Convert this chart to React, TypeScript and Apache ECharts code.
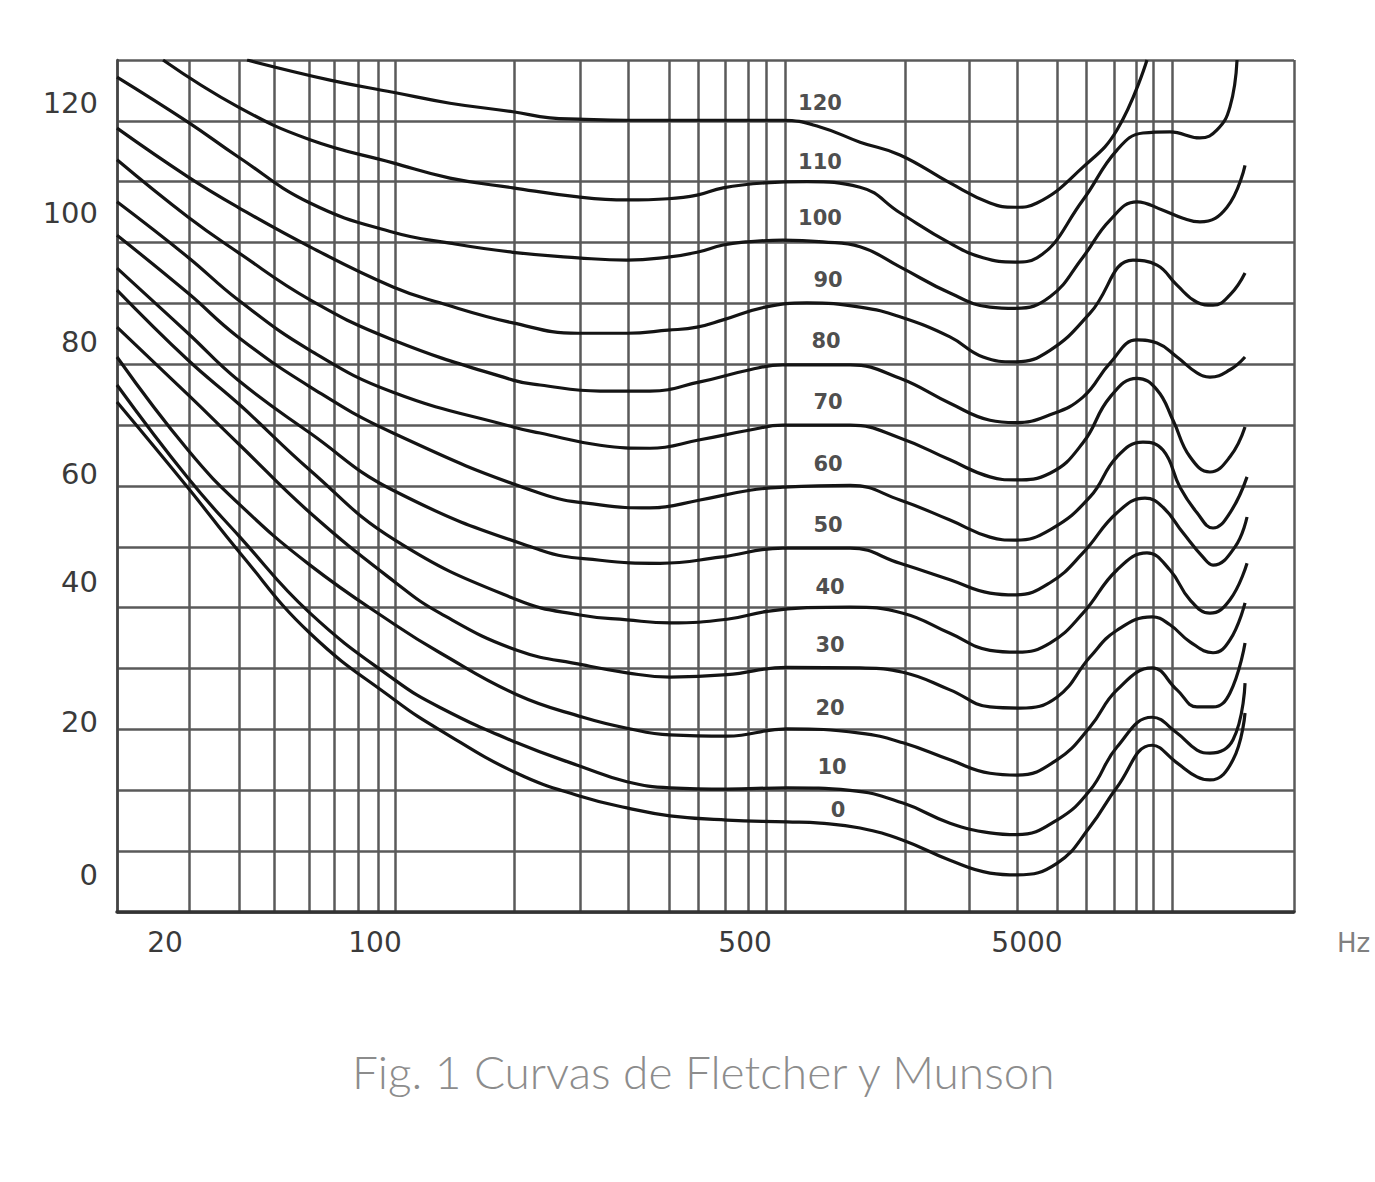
import { useEffect, useRef } from 'react';
import * as echarts from 'echarts';

// Equal-loudness contours (phon). x = position along the scanned frequency scale (0–100 % of plot width), y = sound level in dB.
const phonLevels = ['0', '10', '20', '30', '40', '50', '60', '70', '80', '90', '100', '110', '120'];

const curve0: [number, number][] = [
  [0, 73.8], [6.03, 59.7], [10.45, 49.0], [16.4, 35.8], [23.62, 24.8], [27.44, 19.9], [33.98, 12.8], [39.59, 8.9],
  [43.33, 7.1], [46.98, 5.8], [51.83, 5.1], [56.92, 4.8], [59.73, 4.6], [63.13, 3.8], [66.78, 1.8], [70.77, -1.5],
  [74.17, -3.6], [76.47, -3.9], [79.86, -2.0], [82.67, 4.0], [84.96, 10.5], [87.94, 17.4], [90.06, 14.5],
  [91.76, 12.2], [92.86, 11.7], [94.82, 15.0], [95.84, 22.7],
];
const curve10: [number, number][] = [
  [0, 76.6], [6.03, 61.3], [10.45, 51.6], [16.4, 39.1], [23.62, 28.1], [27.44, 23.6], [33.98, 17.8], [39.59, 13.8],
  [43.33, 11.4], [46.98, 10.4], [51.83, 10.2], [56.92, 10.4], [62.28, 10.0], [66.78, 7.9], [70.77, 4.6], [74.17, 3.0],
  [76.47, 2.7], [79.86, 5.1], [82.67, 10.0], [84.96, 17.1], [87.94, 22.0], [90.06, 19.4], [91.76, 16.6],
  [92.86, 16.1], [94.82, 18.3], [95.84, 27.6],
];
const curve20: [number, number][] = [
  [0, 81.2], [6.03, 65.9], [10.45, 56.9], [16.4, 47.0], [23.62, 37.2], [27.44, 32.6], [33.98, 25.7], [39.59, 22.0],
  [43.33, 20.2], [46.98, 19.1], [51.83, 18.9], [56.92, 20.1], [63.13, 19.4], [66.78, 17.8],
  [70.77, 15.0], [74.17, 12.8], [76.47, 12.5], [79.86, 15.0], [82.67, 20.4], [84.96, 26.5], [87.94, 30.1],
  [90.06, 26.5], [91.76, 23.7], [93.12, 23.7], [94.56, 26.0], [95.84, 34.2],
];
const curve30: [number, number][] = [
  [0, 86.1], [6.03, 75.0], [10.45, 66.7], [16.4, 55.6], [23.62, 44.2], [27.44, 39.1], [33.98, 33.0], [39.59, 30.6],
  [43.33, 29.3], [46.98, 28.6], [51.83, 29.0], [56.92, 30.2], [63.13, 30.1], [66.78, 29.4],
  [70.77, 26.5], [74.17, 23.7], [76.72, 23.5], [79.86, 25.3], [82.67, 31.9], [84.96, 36.3], [87.94, 38.5],
  [89.46, 37.2], [91.16, 34.4], [93.12, 32.6], [94.56, 34.7], [95.84, 40.8],
];
const curve40: [number, number][] = [
  [0, 92.2], [6.03, 80.7], [10.45, 73.3], [16.4, 62.6], [23.62, 51.1], [33.98, 41.3], [39.34, 38.8], [43.33, 38.0],
  [46.98, 37.5], [51.83, 38.1], [55.23, 39.4], [58.62, 40.0], [62.28, 40.1], [66.78, 39.1], [70.77, 35.8],
  [74.17, 33.0], [76.47, 32.7], [79.27, 34.2], [82.07, 39.1], [84.96, 46.2], [87.51, 49.0], [89.46, 46.2],
  [91.16, 41.3], [92.86, 39.1], [94.56, 41.3], [96.01, 47.3],
];
const curve50: [number, number][] = [
  [0, 95.8], [6.03, 85.1], [10.28, 77.4], [16.4, 68.7], [23.45, 59.3], [35.94, 49.5], [41.04, 47.8], [46.13, 47.3],
  [51.23, 48.3], [56.58, 49.8], [62.28, 49.8], [66.52, 47.3], [70.77, 44.6], [74.17, 42.4], [76.3, 42.1],
  [79.27, 44.1], [82.07, 49.0], [84.96, 55.6], [87.34, 58.0], [88.87, 56.5], [90.57, 52.3], [92.27, 48.3],
  [93.12, 47.0], [94.99, 50.0], [96.01, 54.9],
];
const curve60: [number, number][] = [
  [0, 101.2], [6.03, 91.7], [10.28, 84.5], [16.4, 76.3], [23.45, 68.7], [35.94, 58.8], [41.04, 56.9], [45.28, 56.4],
  [49.53, 57.7], [53.78, 59.3], [56.58, 59.8], [62.28, 60.1], [66.52, 57.7], [70.77, 54.4], [74.17, 51.6],
  [76.3, 51.1], [79.27, 52.8], [82.67, 58.2], [84.96, 64.8], [87.17, 67.2], [88.87, 65.9], [90.31, 59.8],
  [91.76, 55.6], [93.12, 53.1], [94.56, 55.6], [96.01, 61.5],
];
const curve70: [number, number][] = [
  [0, 106.7], [6.03, 97.6], [10.28, 90.6], [16.4, 82.3], [23.45, 75.4], [33.64, 69.7], [35.94, 68.7], [41.04, 66.7],
  [45.28, 66.2], [49.53, 67.6], [53.78, 69.2], [56.58, 70.0], [62.28, 70.0], [66.52, 67.9], [70.77, 64.3],
  [74.17, 61.5], [76.3, 61.0], [79.27, 62.1], [82.07, 67.1], [84.37, 74.6], [86.66, 77.7], [88.36, 75.8],
  [89.72, 70.8], [91.16, 64.8], [92.86, 62.3], [94.56, 64.8], [95.84, 69.7],
];
const curve80: [number, number][] = [
  [0, 113.6], [6.03, 104.2], [10.28, 98.4], [16.4, 90.6], [23.45, 84.0], [33.64, 77.4], [35.94, 76.6], [41.04, 75.6],
  [45.28, 75.6], [49.53, 77.1], [53.78, 79.1], [56.58, 79.9], [62.28, 79.9], [66.52, 77.7], [70.77, 73.6],
  [74.17, 70.8], [76.3, 70.4], [79.27, 71.7], [82.07, 74.6], [84.37, 80.2], [86.66, 84.0], [88.36, 83.5],
  [90.06, 81.2], [91.76, 78.6], [92.86, 77.9], [94.56, 79.1], [95.84, 81.2],
];
const curve90: [number, number][] = [
  [0, 118.8], [6.03, 110.8], [10.28, 105.8], [16.4, 99.3], [23.45, 92.7], [27.44, 90.1], [33.64, 86.8], [39.17, 85.1],
  [43.33, 85.1], [46.81, 85.6], [49.28, 86.1], [51.49, 87.3], [55.06, 89.4], [58.62, 90.1], [63.13, 89.4],
  [66.52, 87.8], [70.77, 84.5], [73.58, 81.2], [76.3, 80.4], [79.27, 82.3], [82.67, 88.4], [86.32, 97.1],
  [88.36, 96.3], [90.06, 93.0], [91.76, 90.2], [93.12, 89.7], [94.56, 91.4], [95.84, 95.0],
];
const curve100: [number, number][] = [
  [0, 127.2], [6.03, 119.8], [10.28, 114.1], [16.4, 106.5], [23.45, 101.7], [28.29, 99.9], [33.64, 98.4],
  [39.17, 97.5], [43.33, 97.1], [46.81, 97.6], [49.28, 98.4], [51.49, 99.6], [53.44, 100.1], [56.58, 100.4],
  [59.98, 100.1], [63.13, 99.3], [66.52, 96.0], [70.77, 91.7], [74.17, 89.4], [76.3, 89.2], [79.27, 91.1],
  [82.07, 97.6], [84.37, 103.7], [86.66, 106.7], [88.87, 105.3], [90.57, 104.0], [92.01, 103.4], [94.31, 105.8],
  [95.84, 112.7],
];
const curve110: [number, number][] = [
  [3.91, 130], [10.28, 122.3], [16.4, 116.9], [23.45, 113.1], [28.29, 110.6], [33.64, 109.0], [39.17, 107.5],
  [43.33, 107.0], [46.81, 107.2], [49.28, 107.8], [51.49, 109.0], [55.06, 109.8], [58.62, 110.0], [63.13, 109.1],
  [66.52, 104.9], [70.77, 99.9], [73.58, 97.5], [76.3, 96.8], [78.16, 97.5], [82.07, 107.0], [84.96, 115.2],
  [87.17, 118.0], [89.46, 118.2], [92.01, 117.2], [93.46, 118.5], [94.56, 122.3], [95.16, 130],
];
const curve120: [number, number][] = [
  [11.05, 130], [18.1, 126.7], [23.45, 124.7], [28.29, 122.9], [33.64, 121.5], [36.79, 120.5], [39.17, 120.3],
  [43.33, 120.1], [49.53, 120.1], [56.58, 120.1], [59.73, 119.0], [63.13, 116.5], [66.52, 114.4], [70.77, 109.8],
  [74.17, 106.5], [76.3, 105.8], [78.16, 106.5], [82.07, 112.4], [84.96, 118.5], [87.51, 130],
];

const curves = [curve0, curve10, curve20, curve30, curve40, curve50, curve60, curve70, curve80, curve90, curve100, curve110, curve120];

// where each contour is labelled (x position, dB)
const curveLabelAnchors: [number, number][] = [
  [61.26, 6.8], [60.75, 13.8], [60.58, 23.5], [60.58, 33.9], [60.58, 43.4], [60.41, 53.6], [60.41, 63.6],
  [60.41, 73.8], [60.24, 83.8], [60.41, 93.8], [59.73, 104.0], [59.73, 113.2], [59.73, 122.9],
];

// vertical rulings of the scanned frequency grid
const verticalGridPositions = [
  0, 6.12, 10.37, 13.34, 16.31, 18.44, 20.48, 22.18, 23.62, 33.73, 39.34, 43.42, 46.9, 49.36, 51.66, 53.61, 55.14,
  56.75, 66.95, 72.39, 76.47, 79.86, 82.33, 84.71, 86.58, 88.02, 89.64, 100,
];
const xTickLabels = ['20', '100', '500', '5000'];
const xTickLabelPositions = [4.08, 21.92, 53.36, 77.31];
const yTickLabels = ['0', '20', '40', '60', '80', '100', '120'];
const yTickLabelPositions = [-3.9, 21.2, 44.2, 62.0, 83.7, 104.9, 122.9];

const caption = 'Fig. 1 Curvas de Fletcher y Munson';

function lookup(positions: number[], labels: string[], v: number): string {
  for (let i = 0; i < positions.length; i++) {
    if (Math.abs(positions[i] - v) < 1e-6) return labels[i];
  }
  return '';
}

export default function App() {
  const ref = useRef<HTMLDivElement>(null);

  useEffect(() => {
    if (!ref.current) return;
    const chart = echarts.init(ref.current, null, { renderer: 'svg' });
    const gridColor = '#5a5a5a';

    const lineSeries: any[] = curves.map((pts, i) => ({
      type: 'line',
      name: phonLevels[i] + ' phon',
      data: pts,
      showSymbol: false,
      symbol: 'none',
      smooth: 0.45,
      clip: true,
      silent: true,
      z: 3,
      lineStyle: { color: '#141414', width: 3.2 },
    }));

    lineSeries.push({
      type: 'scatter',
      name: 'labels',
      data: curveLabelAnchors.map((p, i) => [p[0], p[1], phonLevels[i]]),
      symbolSize: 1,
      itemStyle: { color: 'rgba(0,0,0,0)' },
      silent: true,
      z: 5,
      label: {
        show: true,
        position: 'inside',
        formatter: (p: any) => p.data[2],
        fontFamily: 'DejaVu Sans',
        fontWeight: 'bold',
        fontSize: 21,
        color: '#1e1e1e',
      },
    });

    chart.setOption({
      animation: false,
      backgroundColor: '#ffffff',
      title: {
        text: caption,
        left: 352,
        top: 1048,
        padding: 0,
        textStyle: {
          fontFamily: 'Lato',
          fontWeight: 300,
          fontSize: 46,
          color: '#8c8c8c',
        },
      },
      grid: { left: 117, right: 81, top: 60, bottom: 270, containLabel: false },
      xAxis: {
        type: 'value',
        min: 0,
        max: 100,
        name: 'Hz',
        nameLocation: 'end',
        nameGap: 43,
        nameTextStyle: {
          fontFamily: 'DejaVu Sans',
          fontSize: 26,
          color: '#808080',
          verticalAlign: 'top',
          padding: [18, 0, 0, 0],
        },
        axisLine: { show: true, onZero: false, lineStyle: { color: '#333', width: 3.5 } },
        axisTick: { show: false, customValues: verticalGridPositions },
        splitLine: { show: true, lineStyle: { color: gridColor, width: 2.5 } },
        axisLabel: {
          customValues: xTickLabelPositions,
          formatter: (v: number) => lookup(xTickLabelPositions, xTickLabels, v),
          fontFamily: 'DejaVu Sans',
          fontSize: 28,
          color: '#3a3a3a',
          margin: 16,
        },
      },
      yAxis: {
        type: 'value',
        min: -10,
        max: 130,
        interval: 10,
        axisLine: { show: true, onZero: false, lineStyle: { color: '#444', width: 2.5 } },
        axisTick: { show: false },
        splitLine: { show: true, lineStyle: { color: gridColor, width: 2.5 } },
        axisLabel: {
          customValues: yTickLabelPositions,
          formatter: (v: number) => lookup(yTickLabelPositions, yTickLabels, v),
          fontFamily: 'DejaVu Sans',
          fontSize: 29,
          color: '#3a3a3a',
          margin: 19,
        },
      },
      series: lineSeries,
    });

    return () => {
      chart.dispose();
    };
  }, []);

  return (
    <div
      ref={ref}
      style={{ position: 'absolute', left: 0, top: 0, width: '1375px', height: '1182px', background: '#fff' }}
    />
  );
}
